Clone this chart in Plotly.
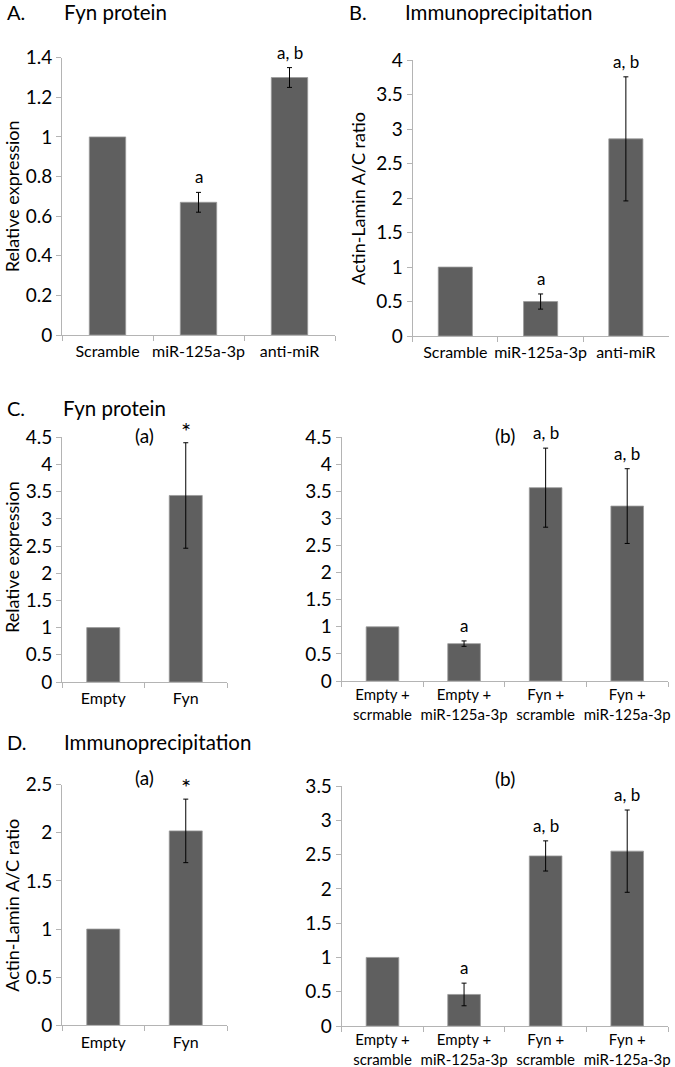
import plotly.graph_objects as go

# ---------------- data ----------------
a_cats = ["Scramble", "miR-125a-3p", "anti-miR"]
a_vals = [1.0, 0.67, 1.30]
a_errs = [None, 0.05, 0.05]
a_sig = ["", "a", "a, b"]

b_cats = ["Scramble", "miR-125a-3p", "anti-miR"]
b_vals = [1.0, 0.50, 2.86]
b_errs = [None, 0.11, 0.90]
b_sig = ["", "a", "a, b"]

ca_cats = ["Empty", "Fyn"]
ca_vals = [1.0, 3.43]
ca_errs = [None, 0.97]
ca_sig = ["", "*"]

cb_cats = ["Empty +<br>scrmable", "Empty +<br>miR-125a-3p", "Fyn +<br>scramble", "Fyn +<br>miR-125a-3p"]
cb_vals = [1.0, 0.69, 3.57, 3.23]
cb_errs = [None, 0.05, 0.73, 0.69]
cb_sig = ["", "a", "a, b", "a, b"]

da_cats = ["Empty", "Fyn"]
da_vals = [1.0, 2.02]
da_errs = [None, 0.33]
da_sig = ["", "*"]

db_cats = ["Empty +<br>scramble", "Empty +<br>miR-125a-3p", "Fyn +<br>scramble", "Fyn +<br>miR-125a-3p"]
db_vals = [1.0, 0.46, 2.48, 2.55]
db_errs = [None, 0.165, 0.22, 0.60]
db_sig = ["", "a", "a, b", "a, b"]

W, H = 675, 1067
FONT = "Lato"
BAR = "#5f5f5f"
AX = "#b4b4b4"

def px(x):
    return x / W

def py(y):
    return 1 - y / H

panels = [
    # cats, vals, errs, sig, x-domain px, y-domain px (top, bottom), ymax, dtick, xfont
    (a_cats, a_vals, a_errs, a_sig, (62, 335), (57.7, 335), 1.4, 0.2, 16),
    (b_cats, b_vals, b_errs, b_sig, (412.7, 668.5), (60.3, 336), 4, 0.5, 16),
    (ca_cats, ca_vals, ca_errs, ca_sig, (62, 227), (437.3, 682), 4.5, 0.5, 16),
    (cb_cats, cb_vals, cb_errs, cb_sig, (341.7, 668), (437.3, 681), 4.5, 0.5, 15),
    (da_cats, da_vals, da_errs, da_sig, (62, 227), (784.7, 1025.3), 2.5, 0.5, 16),
    (db_cats, db_vals, db_errs, db_sig, (341.7, 668), (786, 1026), 3.5, 0.5, 15),
]

fig = go.Figure()
annotations = []
layout = {}

for i, (cats, vals, errs, sig, xd, yd, ymax, dtick, xfs) in enumerate(panels, start=1):
    xa = "x" if i == 1 else f"x{i}"
    ya = "y" if i == 1 else f"y{i}"
    fig.add_trace(go.Bar(
        x=cats, y=vals, xaxis=xa, yaxis=ya,
        marker=dict(color=BAR, line=dict(color="#9a9a9a", width=0.8)),
        showlegend=False, hoverinfo="x+y",
    ))
    ex = [c for c, e in zip(cats, errs) if e is not None]
    ey = [v for v, e in zip(vals, errs) if e is not None]
    ee = [e for e in errs if e is not None]
    fig.add_trace(go.Scatter(
        x=ex, y=ey, xaxis=xa, yaxis=ya, mode="markers",
        marker=dict(size=1, opacity=0),
        error_y=dict(type="data", array=ee, visible=True,
                     color="black", thickness=1, width=2.5),
        showlegend=False, hoverinfo="skip",
    ))
    for c, v, e, s in zip(cats, vals, errs, sig):
        if not s:
            continue
        top = v + (e or 0)
        star = s == "*"
        annotations.append(dict(
            x=c, y=top, xref=xa, yref=ya, text=s, showarrow=False,
            yanchor="bottom", yshift=-4 if star else 3,
            font=dict(family=FONT, size=24 if star else 17, color="black"),
        ))
    xkey = "xaxis" if i == 1 else f"xaxis{i}"
    ykey = "yaxis" if i == 1 else f"yaxis{i}"
    layout[xkey] = dict(
        domain=[px(xd[0]), px(xd[1])], anchor=ya, type="category",
        showline=True, linecolor=AX, linewidth=1, automargin=False,
        ticks="outside", tickson="boundaries", ticklen=5, tickcolor=AX,
        tickangle=0, ticklabelstandoff=2 if xfs == 16 else 0,
        tickfont=dict(family=FONT, size=xfs, color="black"),
        showgrid=False, zeroline=False, fixedrange=True,
    )
    layout[ykey] = dict(
        domain=[py(yd[1]), py(yd[0])], anchor=xa, range=[0, ymax], dtick=dtick,
        showline=True, linecolor=AX, linewidth=1, automargin=False,
        ticks="outside", ticklen=5, tickcolor=AX,
        tickfont=dict(family=FONT, size=19, color="black"),
        showgrid=False, zeroline=False, fixedrange=True,
    )

# panel titles
titles = [
    ("A.", "Fyn protein", 5, 61.7, 12),
    ("B.", "Immunoprecipitation", 346.7, 402.7, 12),
    ("C.", "Fyn protein", 5, 61, 408),
    ("D.", "Immunoprecipitation", 5, 61.7, 741.7),
]
for letter, name, lx, nx, y in titles:
    annotations.append(dict(x=px(lx), y=py(y), xref="paper", yref="paper", text=letter,
                            showarrow=False, xanchor="left", yanchor="middle",
                            font=dict(family=FONT, size=20, color="black")))
    annotations.append(dict(x=px(nx), y=py(y), xref="paper", yref="paper", text=name,
                            showarrow=False, xanchor="left", yanchor="middle",
                            font=dict(family=FONT, size=20.5, color="black")))

# y-axis titles
ytitles = [
    ("Relative expression", 11.5, 196.7),
    ("Actin-Lamin A/C ratio", 358, 199),
    ("Relative expression", 11.5, 557.5),
    ("Actin-Lamin A/C ratio", 12, 905.8),
]
for t, x, y in ytitles:
    annotations.append(dict(x=px(x), y=py(y), xref="paper", yref="paper", text=t,
                            showarrow=False, textangle=-90, xanchor="center", yanchor="middle",
                            font=dict(family=FONT, size=18, color="black")))

# sub-panel labels (a)/(b)
subs = [("(a)", "x3", "y3", 0.5, 4.5, 2), ("(b)", "x4", "y4", 1.5, 4.5, 2),
        ("(a)", "x5", "y5", 0.5, 2.5, 7), ("(b)", "x6", "y6", 1.5, 3.5, 8)]
for t, xr, yr, xv, yv, sh in subs:
    annotations.append(dict(x=xv, y=yv, xref=xr, yref=yr, text=t, showarrow=False,
                            yanchor="middle", yshift=sh,
                            font=dict(family=FONT, size=19, color="black")))

fig.update_layout(
    width=W, height=H, margin=dict(l=0, r=0, t=0, b=0, autoexpand=False),
    paper_bgcolor="white", plot_bgcolor="white",
    bargap=0.6, annotations=annotations, **layout,
)

fig.write_html("out.html", config={"displayModeBar": False},
               post_script="document.body.style.margin='0';document.body.style.overflow='hidden';")
